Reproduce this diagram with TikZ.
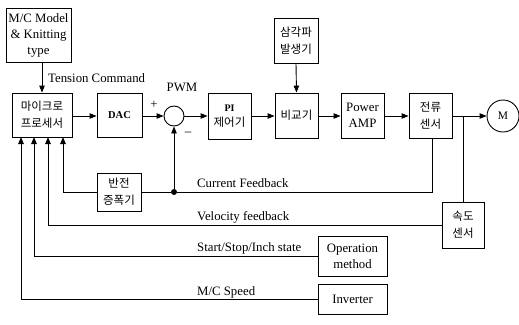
\documentclass[tikz,border=0pt]{standalone}
\usepackage{fontspec}
\setmainfont{Liberation Serif}
\newfontfamily\kr{Noto Sans CJK KR}
\usetikzlibrary{arrows.meta,calc}
\tikzset{
  blk/.style={draw, line width=0.9pt, inner sep=0pt, align=center,
    font=\fontsize{12.8}{16}\selectfont},
  krblk/.style={blk, font=\kr\fontsize{11.5}{17}\selectfont},
  wire/.style={line width=0.9pt},
  sig/.style={wire, -{Triangle[length=7pt,width=5.5pt]}},
  lbl/.style={inner sep=0pt, font=\fontsize{12.8}{16}\selectfont},
  dot/.style={circle, fill, inner sep=0pt, minimum size=6pt}
}
\begin{document}
\begin{tikzpicture}[x=1pt,y=-1pt]
\useasboundingbox (0,0) rectangle (519,324);

% blocks of the forward path
\node[blk, minimum width=65pt, minimum height=54pt] (model) at (38.5,35) {M/C Model\\\& Knitting\\type};
\node[krblk, minimum width=60pt, minimum height=44pt] (mcu) at (42,115) {마이크로\\프로세서};
\node[blk, minimum width=45pt, minimum height=44pt, font=\bfseries\fontsize{10.5}{13}\selectfont] (dac) at (119.5,115) {DAC};
\node[draw, wire, circle, minimum size=20pt, inner sep=0pt] (sum) at (174,116) {};
\node[blk, minimum width=43pt, minimum height=46pt] (pi) at (229.5,116) {{\bfseries\fontsize{10}{12}\selectfont PI}\\[-1pt]{\kr\fontsize{11.5}{14}\selectfont 제어기}};
\node[krblk, minimum width=44pt, minimum height=45pt] (tri) at (296,40.5) {삼각파\\발생기};
\node[krblk, minimum width=43pt, minimum height=45pt] (cmp) at (296.5,115.5) {비교기};
\node[blk, minimum width=43pt, minimum height=45pt] (amp) at (362.5,115.5) {Power\\AMP};
\node[krblk, minimum width=43pt, minimum height=45pt] (cs) at (430.5,115.5) {전류\\센서};
\node[draw, wire, circle, minimum size=32pt, inner sep=0pt, font=\fontsize{11.5}{14}\selectfont] (motor) at (503,116) {M};

% feedback and input blocks
\node[krblk, minimum width=44pt, minimum height=38pt] (inv) at (119,192) {반전\\증폭기};
\node[krblk, minimum width=42pt, minimum height=46pt] (vs) at (463,225) {속도\\센서};
\node[blk, minimum width=69pt, minimum height=40pt] (op) at (352.5,256) {Operation\\method};
\node[blk, minimum width=69pt, minimum height=30pt] (invt) at (352.5,299) {Inverter};

% forward path
\draw[sig] (mcu.north |- model.south) -- (mcu.north);
\draw[sig] (mcu.east |- 0,116) -- (dac.west |- 0,116);
\draw[sig] (dac.east |- 0,116) -- (sum.west);
\draw[sig] (sum.east) -- (pi.west |- 0,116);
\draw[sig] (pi.east |- 0,116) -- (cmp.west |- 0,116);
\draw[sig] (tri.south) -- (cmp.north);
\draw[sig] (cmp.east |- 0,116) -- (amp.west |- 0,116);
\draw[sig] (amp.east |- 0,116) -- (cs.west |- 0,116);
\draw[sig] (cs.east |- 0,116) -- (motor.west);

% current feedback
\coordinate (jv) at (463,116);
\coordinate (csb) at (432,192);
\node[dot] (jc) at (174,192) {};
\draw[wire] (cs.south -| csb) -- (csb) -- (jc) -- (inv.east);
\draw[sig] (jc) -- (sum.south);
\draw[sig] (inv.west) -| (63,137);

% velocity feedback
\draw[wire] (jv) -- (vs.north);
\draw[sig] (vs.west) -| (48,137);

% operation state and machine speed
\draw[sig] (op.west) -| (34,137);
\draw[sig] (invt.west) -| (21,137);

% labels
\node[lbl, anchor=west] at (48,78) {Tension Command};
\node[lbl] at (182,87) {PWM};
\node[lbl] at (154,105) {+};
\node[lbl] at (188,134) {\textendash};
\node[lbl, anchor=west] at (197,183) {Current Feedback};
\node[lbl, anchor=west] at (197,217) {Velocity feedback};
\node[lbl, anchor=west] at (197,248) {Start/Stop/Inch state};
\node[lbl, anchor=west] at (197,292) {M/C Speed};
\end{tikzpicture}
\end{document}
